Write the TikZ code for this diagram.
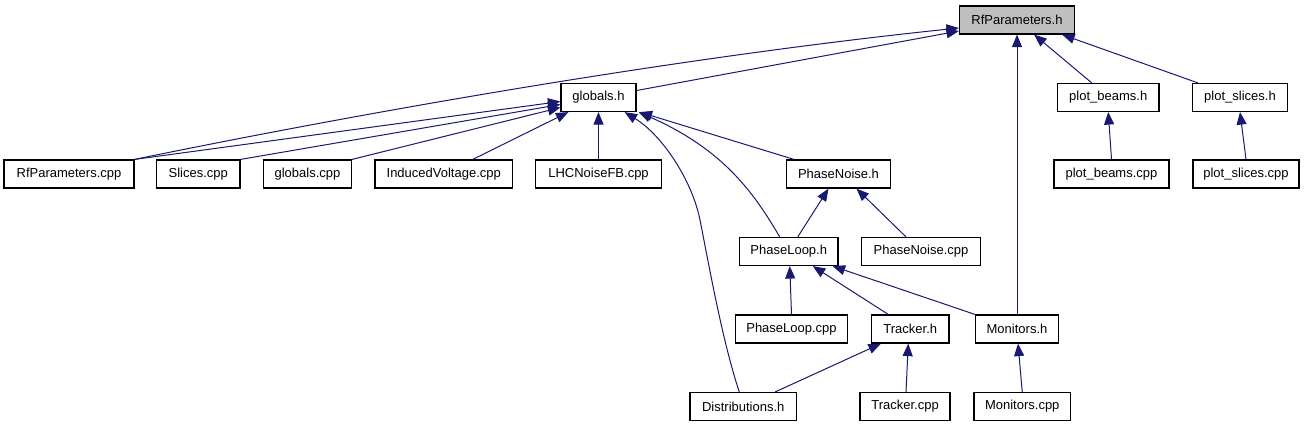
\documentclass[tikz,border=0pt]{standalone}
\usepackage{fontspec}
\setmainfont{Liberation Sans}
\usetikzlibrary{arrows.meta,calc}
\definecolor{edgecol}{HTML}{191970}
\definecolor{rootfill}{HTML}{BFBFBF}
\begin{document}
\begin{tikzpicture}[x=1pt,y=-1pt,
  box/.style={draw=black,line width=1.2pt,fill=white,rectangle,inner sep=0pt,
    minimum height=28pt,font=\fontsize{13}{15}\selectfont},
  rootbox/.style={box,fill=rootfill},
  edge/.style={draw=edgecol,line width=1pt,-{Triangle[length=12.5pt,width=10pt]}}]
\useasboundingbox (0,0) rectangle (1308,427);
% row 1
\node[rootbox,minimum width=115pt] (rfh) at (1017,20) {RfParameters.h};
% row 2
\node[box,minimum width=75pt] (globh) at (598.5,97.5) {globals.h};
\node[box,minimum width=101.5pt] (pbh) at (1108.25,97.5) {plot\_beams.h};
\node[box,minimum width=95pt] (psh) at (1240,97.5) {plot\_slices.h};
% row 3
\node[box,minimum width=130pt] (rfcpp) at (69,174) {RfParameters.cpp};
\node[box,minimum width=83.5pt] (slcpp) at (198.25,174) {Slices.cpp};
\node[box,minimum width=88pt] (glcpp) at (307.5,174) {globals.cpp};
\node[box,minimum width=137.5pt] (ivcpp) at (443.75,174) {InducedVoltage.cpp};
\node[box,minimum width=126pt] (lhccpp) at (598.5,174) {LHCNoiseFB.cpp};
\node[box,minimum width=104pt] (pnh) at (838.5,174) {PhaseNoise.h};
\node[box,minimum width=115pt] (pbcpp) at (1111.5,174) {plot\_beams.cpp};
\node[box,minimum width=106pt] (pscpp) at (1246,174) {plot\_slices.cpp};
% row 4
\node[box,minimum width=98.5pt] (plh) at (788.75,251.5) {PhaseLoop.h};
\node[box,minimum width=119pt] (pncpp) at (921,251.5) {PhaseNoise.cpp};
% row 5
\node[box,minimum width=112pt] (plcpp) at (791.5,329) {PhaseLoop.cpp};
\node[box,minimum width=77.5pt] (trh) at (910.25,329) {Tracker.h};
\node[box,minimum width=83pt] (monh) at (1017,329) {Monitors.h};
% row 6
\node[box,minimum width=106.5pt] (disth) at (743.25,406.5) {Distributions.h};
\node[box,minimum width=90pt] (trcpp) at (905,406.5) {Tracker.cpp};
\node[box,minimum width=96.5pt] (moncpp) at (1022.25,406.5) {Monitors.cpp};
% edges
\draw[edge] (rfcpp.north east) .. controls (400,105) and (700,55) .. ($(rfh.west)+(0,8)$);
\draw[edge] ($(globh.east)+(0,-7)$) -- ($(rfh.west)+(0,11)$);
\draw[edge] (rfcpp.north east) -- ($(globh.west)+(0,4)$);
\draw[edge] (slcpp.north east) -- ($(globh.west)+(0,7)$);
\draw[edge] (glcpp.north east) -- ($(globh.west)+(0,10)$);
\draw[edge] ($(ivcpp.north)+(29,0)$) -- ($(globh.south west)+(8,0)$);
\draw[edge] (lhccpp.north) -- (globh.south);
\draw[edge] ($(disth.north)+(-4,0)$) .. controls (722,340) and (708,260) .. (700,220)
   .. controls (692,180) and (662,135) .. ($(globh.south east)+(-12,0)$);
\draw[edge] ($(plh.north)+(-9,0)$) .. controls (755,195) and (725,150) .. ($(globh.south east)+(2,0)$);
\draw[edge] ($(pnh.north west)+(8,0)$) -- ($(globh.south east)+(3,0)$);
\draw[edge] ($(plh.north)+(9,0)$) -- ($(pnh.south)+(-10,0)$);
\draw[edge] ($(pncpp.north)+(-15,0)$) -- ($(pnh.south)+(18,0)$);
\draw[edge] (plcpp.north) -- ($(plh.south)+(1,0)$);
\draw[edge] ($(trh.north)+(-22,0)$) -- ($(plh.south)+(24,0)$);
\draw[edge] (monh.north west) -- ($(plh.south east)+(-6,0)$);
\draw[edge] ($(disth.north)+(32,0)$) -- ($(trh.south west)+(10,0)$);
\draw[edge] ($(trcpp.north)+(1,0)$) -- ($(trh.south)+(-2,0)$);
\draw[edge] (moncpp.north) -- ($(monh.south)+(1,0)$);
\draw[edge] (monh.north) -- (rfh.south);
\draw[edge] ($(pbh.north)+(-16.5,0)$) -- ($(rfh.south east)+(-41,0)$);
\draw[edge] ($(psh.north west)+(6,0)$) -- ($(rfh.south east)+(-13,0)$);
\draw[edge] (pbcpp.north) -- (pbh.south);
\draw[edge] (pscpp.north) -- (psh.south);
\end{tikzpicture}
\end{document}
